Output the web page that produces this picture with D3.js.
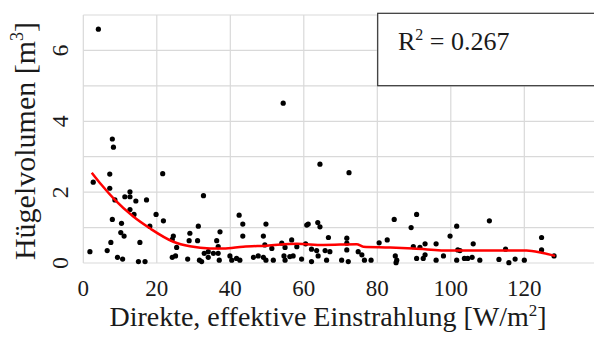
<!DOCTYPE html>
<html>
<head>
<meta charset="utf-8">
<script src="https://cdn.jsdelivr.net/npm/d3@7"></script>
</head>
<body style="margin:0">
<script>
// Direct effective irradiance [W/m²] for each mound
const irradiance = [
  4.1, 7.9, 8.2, 7.2, 2.7, 7.2, 8.6, 11.3, 12.7, 12.7, 14.3, 17.2, 12.7, 13.8, 19.8,
  7.9, 10.4, 18.1, 10.2, 11.1, 7.5, 15.4, 1.8, 6.5, 9.3, 10.7, 15.0, 16.8, 21.6, 21.8,
  32.7, 31.3, 37.2, 24.5, 24.2, 29.0, 31.1, 28.8, 36.3, 25.4, 36.7, 24.2, 25.1, 28.4,
  31.6, 32.9, 34.0, 35.4, 36.7, 34.0, 37.0, 39.9, 40.4, 32.2,
  42.4, 43.4, 43.4, 49.7, 49.0, 60.8, 41.7, 42.6, 46.3, 47.6, 49.0, 49.7, 51.7, 49.4,
  51.3, 54.0, 56.7, 54.9, 54.6, 56.2, 57.1, 54.9, 59.4, 58.1, 54.4,
  64.4, 72.3, 61.2, 63.8, 64.4, 66.7, 71.7, 71.7, 80.5, 60.5, 62.1, 63.5, 63.9, 65.8,
  67.1, 62.1, 66.2, 70.3, 71.7, 72.1, 74.8, 75.8, 76.5, 78.3,
  84.6, 90.7, 89.2, 101.6, 99.8, 82.7, 89.8, 91.6, 93.0, 96.0, 84.9, 85.3, 85.1, 90.7,
  92.5, 93.0, 96.0, 98.0, 101.6, 101.9,
  110.5, 124.7, 106.1, 102.5, 114.9, 124.7, 103.7, 104.6, 105.8, 107.9, 113.1, 115.8,
  117.5, 120.0, 128.1
];

// Mound volume [m³]
const volume = [
  6.6, 3.5, 3.27, 2.51, 2.28, 2.11, 1.78, 1.87, 2.01, 1.87, 1.75, 1.78, 1.51, 1.37, 1.37,
  1.23, 1.12, 1.04, 0.86, 0.76, 0.58, 0.58, 0.32, 0.35, 0.16, 0.11, 0.04, 0.04, 2.52, 1.19,
  1.90, 1.04, 0.88, 0.76, 0.67, 0.84, 0.63, 0.63, 0.63, 0.44, 0.46, 0.16, 0.20, 0.11,
  0.08, 0.27, 0.32, 0.27, 0.27, 0.16, 0.08, 0.20, 0.08, 0.04,
  1.35, 1.10, 0.76, 1.10, 0.76, 1.07, 0.13, 0.08, 0.16, 0.20, 0.16, 0.08, 0.08, 0.51,
  0.41, 0.56, 0.65, 0.44, 0.20, 0.18, 0.20, 0.08, 0.11, 0.46, 4.51,
  2.79, 2.55, 1.10, 1.14, 1.02, 0.72, 0.70, 0.56, 0.57, 0.54, 0.39, 0.35, 0.20, 0.35,
  0.32, 0.04, 0.08, 0.08, 0.37, 0.04, 0.32, 0.23, 0.08, 0.08,
  1.23, 1.37, 1.00, 1.04, 0.76, 0.65, 0.46, 0.44, 0.54, 0.54, 0.20, 0.08, 0.01, 0.13,
  0.13, 0.23, 0.08, 0.20, 0.08, 0.37,
  1.19, 0.72, 0.54, 0.35, 0.39, 0.37, 0.13, 0.13, 0.16, 0.08, 0.10, 0.01,
  0.11, 0.08, 0.20
];

// Smoothed trend through the cloud
const trendX = [2.3, 5, 8.6, 13.6, 18.1, 24.5, 29, 34.5, 38.1, 43.5, 49.9, 58.1, 65.3,
  74.4, 76.2, 83.5, 89.8, 100.2, 114.3, 120.6, 124.7, 128.4];
const trendY = [2.55, 2.2, 1.78, 1.31, 0.98, 0.60, 0.47, 0.41, 0.41, 0.46, 0.49, 0.54, 0.51,
  0.53, 0.46, 0.44, 0.41, 0.35, 0.35, 0.35, 0.29, 0.20];

const xTicks = [0, 20, 40, 60, 80, 100, 120];
const yTicks = [0, 2, 4, 6];
const xGrid = [0, 20, 40, 60, 80, 100, 120, 140];
const yGrid = [0, 1, 2, 3, 4, 5, 6, 7];
const rSquared = "0.267";

const W = 594, H = 338;
const ink = "#1a1a1a";
const SERIF = '"Liberation Serif", "Times New Roman", Tinos';

const svg = d3.select("body").append("svg")
  .attr("width", W).attr("height", H)
  .style("font-family", SERIF);

const x = d3.scaleLinear().domain([0, 140]).range([83.3, 597.8]);
const y = d3.scaleLinear().domain([0, 7]).range([263, 15]);

// gridlines
const grid = svg.append("g").attr("stroke", "#d9d9d9").attr("stroke-width", 1.2);
grid.selectAll("line.v").data(xGrid).join("line")
  .attr("x1", d => x(d)).attr("x2", d => x(d))
  .attr("y1", y(0)).attr("y2", y(7));
grid.selectAll("line.h").data(yGrid).join("line")
  .attr("x1", x(0)).attr("x2", x(140))
  .attr("y1", d => y(d)).attr("y2", d => y(d));

// x tick labels
svg.append("g").selectAll("text").data(xTicks).join("text")
  .attr("x", d => x(d)).attr("y", 296)
  .attr("text-anchor", "middle")
  .style("font-family", SERIF).style("font-size", "23px").attr("fill", ink)
  .text(d => d);

// y tick labels, rotated
svg.append("g").selectAll("text").data(yTicks).join("text")
  .attr("transform", d => `translate(68,${y(d)}) rotate(-90)`)
  .attr("text-anchor", "middle")
  .style("font-family", SERIF).style("font-size", "24px").attr("fill", ink)
  .text(d => d);

// x axis title
const xt = svg.append("text")
  .attr("x", 328).attr("y", 326).attr("text-anchor", "middle")
  .style("font-family", SERIF).style("font-size", "28px").attr("fill", ink);
xt.append("tspan").text("Direkte, effektive Einstrahlung [W/m");
xt.append("tspan").style("font-size", "17px").attr("dy", -10).text("2");
xt.append("tspan").attr("dy", 10).text("]");

// y axis title
const yt = svg.append("text")
  .attr("transform", "translate(35,141) rotate(-90)").attr("text-anchor", "middle")
  .style("font-family", SERIF).style("font-size", "30px").attr("fill", ink);
yt.append("tspan").text("Hügelvolumen [m");
yt.append("tspan").style("font-size", "18px").attr("dy", -12).text("3");
yt.append("tspan").attr("dy", 12).text("]");

// scatter points
const pts = irradiance.map((v, i) => ({ x: v, y: volume[i] }));
svg.append("g").selectAll("circle").data(pts).join("circle")
  .attr("cx", d => x(d.x)).attr("cy", d => y(d.y))
  .attr("r", 2.6).attr("fill", "#000");

// trend line
const trend = trendX.map((v, i) => [v, trendY[i]]);
svg.append("path")
  .datum(trend)
  .attr("fill", "none").attr("stroke", "#ff0000").attr("stroke-width", 2.5)
  .attr("d", d3.line().x(d => x(d[0])).y(d => y(d[1])).curve(d3.curveMonotoneX));

// R² box
svg.append("rect").attr("x", 377.7).attr("y", 13.3)
  .attr("width", 230).attr("height", 72.4)
  .attr("fill", "#fff").attr("stroke", "#333").attr("stroke-width", 1.2);
const rt = svg.append("text").attr("x", 398).attr("y", 50)
  .style("font-family", SERIF).style("font-size", "26px").attr("fill", ink);
rt.append("tspan").text("R");
rt.append("tspan").style("font-size", "16px").attr("dy", -10).text("2");
rt.append("tspan").attr("dy", 10).text(" = " + rSquared);
</script>
</body>
</html>
